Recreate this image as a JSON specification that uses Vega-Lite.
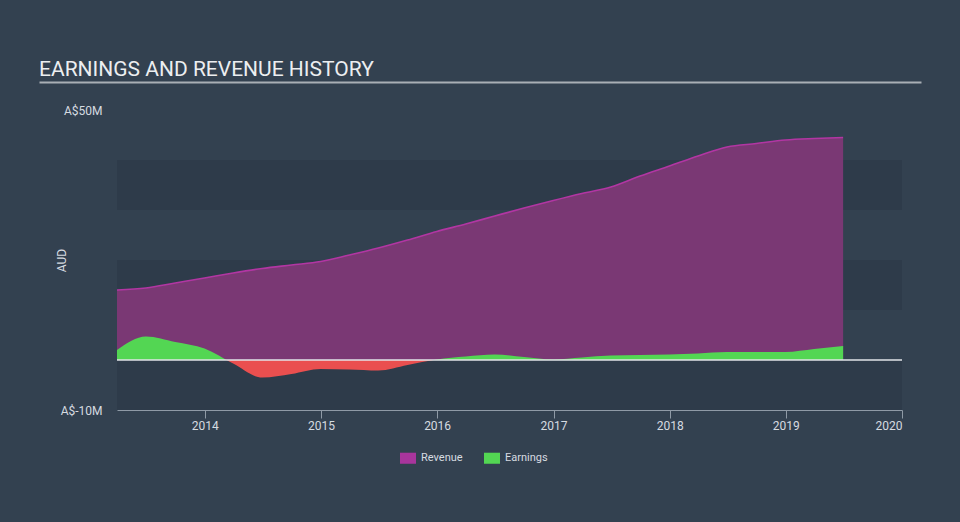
{
  "$schema": "https://vega.github.io/schema/vega-lite/v6.json",
  "width": 785,
  "height": 300,
  "autosize": {"type": "none"},
  "padding": {"left": 117, "top": 110, "right": 58, "bottom": 112},
  "background": "#334150",
  "config": {"view": {"stroke": null}, "font": "Roboto"},
  "title": {
    "text": "EARNINGS AND REVENUE HISTORY",
    "anchor": "start",
    "frame": "group",
    "dx": -78,
    "offset": -15,
    "baseline": "alphabetic",
    "fontSize": 21,
    "fontWeight": "normal",
    "color": "#eceef0",
    "font": "Roboto"
  },
  "datasets": {
    "fin": [
      {"date": "2013-03-31", "series": "Revenue", "value": 14.0},
      {"date": "2013-06-30", "series": "Revenue", "value": 14.4},
      {"date": "2013-09-30", "series": "Revenue", "value": 15.4},
      {"date": "2013-12-31", "series": "Revenue", "value": 16.4},
      {"date": "2014-03-31", "series": "Revenue", "value": 17.4},
      {"date": "2014-06-30", "series": "Revenue", "value": 18.3},
      {"date": "2014-09-30", "series": "Revenue", "value": 19.0},
      {"date": "2014-12-31", "series": "Revenue", "value": 19.7},
      {"date": "2015-03-31", "series": "Revenue", "value": 21.0},
      {"date": "2015-06-30", "series": "Revenue", "value": 22.4},
      {"date": "2015-09-30", "series": "Revenue", "value": 24.0},
      {"date": "2015-12-31", "series": "Revenue", "value": 25.7},
      {"date": "2016-03-31", "series": "Revenue", "value": 27.2},
      {"date": "2016-06-30", "series": "Revenue", "value": 28.8},
      {"date": "2016-09-30", "series": "Revenue", "value": 30.4},
      {"date": "2016-12-31", "series": "Revenue", "value": 31.9},
      {"date": "2017-03-31", "series": "Revenue", "value": 33.3},
      {"date": "2017-06-30", "series": "Revenue", "value": 34.6},
      {"date": "2017-09-30", "series": "Revenue", "value": 36.8},
      {"date": "2017-12-31", "series": "Revenue", "value": 38.8},
      {"date": "2018-03-31", "series": "Revenue", "value": 40.8},
      {"date": "2018-06-30", "series": "Revenue", "value": 42.6},
      {"date": "2018-09-30", "series": "Revenue", "value": 43.3},
      {"date": "2018-12-31", "series": "Revenue", "value": 44.0},
      {"date": "2019-03-31", "series": "Revenue", "value": 44.3},
      {"date": "2019-06-30", "series": "Revenue", "value": 44.5},
      {"date": "2013-03-31", "series": "Earnings", "value": 2.0},
      {"date": "2013-06-30", "series": "Earnings", "value": 4.7},
      {"date": "2013-09-30", "series": "Earnings", "value": 3.6},
      {"date": "2013-12-31", "series": "Earnings", "value": 2.3},
      {"date": "2014-03-31", "series": "Earnings", "value": -0.7},
      {"date": "2014-06-30", "series": "Earnings", "value": -3.5},
      {"date": "2014-09-30", "series": "Earnings", "value": -2.8},
      {"date": "2014-12-31", "series": "Earnings", "value": -1.8},
      {"date": "2015-03-31", "series": "Earnings", "value": -1.9},
      {"date": "2015-06-30", "series": "Earnings", "value": -2.1},
      {"date": "2015-09-30", "series": "Earnings", "value": -1.0},
      {"date": "2015-12-31", "series": "Earnings", "value": 0.1},
      {"date": "2016-03-31", "series": "Earnings", "value": 0.7},
      {"date": "2016-06-30", "series": "Earnings", "value": 1.1},
      {"date": "2016-09-30", "series": "Earnings", "value": 0.6},
      {"date": "2016-12-31", "series": "Earnings", "value": 0.1},
      {"date": "2017-03-31", "series": "Earnings", "value": 0.5},
      {"date": "2017-06-30", "series": "Earnings", "value": 0.9},
      {"date": "2017-09-30", "series": "Earnings", "value": 1.0},
      {"date": "2017-12-31", "series": "Earnings", "value": 1.1},
      {"date": "2018-03-31", "series": "Earnings", "value": 1.3},
      {"date": "2018-06-30", "series": "Earnings", "value": 1.6},
      {"date": "2018-09-30", "series": "Earnings", "value": 1.6},
      {"date": "2018-12-31", "series": "Earnings", "value": 1.6},
      {"date": "2019-03-31", "series": "Earnings", "value": 2.2},
      {"date": "2019-06-30", "series": "Earnings", "value": 2.8}
    ],
    "bands": [
      {"lo": 30, "hi": 40},
      {"lo": 10, "hi": 20},
      {"lo": -10, "hi": 0}
    ]
  },
  "resolve": {"axis": {"x": "independent"}},
  "layer": [
    {
      "data": {"name": "bands"},
      "mark": {"type": "rect", "color": "#2e3b4a"},
      "encoding": {
        "y": {
          "field": "lo", "type": "quantitative",
          "scale": {"domain": [-10, 50], "nice": false, "zero": false},
          "axis": {
            "values": [-10, 50],
            "labelExpr": "'A$' + datum.value + 'M'",
            "domain": false, "ticks": false, "grid": false,
            "labelPadding": 15, "labelFontSize": 12, "labelColor": "#d6dbe0",
            "title": "AUD", "titleFontSize": 12, "titleFontWeight": "normal",
            "titleColor": "#d6dbe0", "titleX": -49, "titleY": 150
          }
        },
        "y2": {"field": "hi"}
      }
    },
    {
      "data": {"name": "fin"},
      "transform": [{"filter": "datum.series === 'Revenue'"}],
      "mark": {"type": "area", "interpolate": "monotone", "color": "#7a3874"},
      "encoding": {
        "x": {
          "field": "date", "type": "temporal",
          "scale": {"domain": ["2013-03-31", "2020-01-01"]},
          "axis": {
            "format": "%Y", "tickCount": {"interval": "year", "step": 1},
            "domainColor": "#8f9aa6", "tickColor": "#8f9aa6", "tickSize": 8,
            "labelColor": "#d6dbe0", "labelFontSize": 12, "labelPadding": 2,
            "labelFlush": true, "grid": false, "title": null
          }
        },
        "y": {"field": "value", "type": "quantitative"}
      }
    },
    {
      "data": {"name": "fin"},
      "transform": [{"filter": "datum.series === 'Revenue'"}],
      "mark": {"type": "line", "interpolate": "monotone", "color": "#b236a3", "strokeWidth": 1.6},
      "encoding": {
        "x": {"field": "date", "type": "temporal", "axis": null},
        "y": {"field": "value", "type": "quantitative"}
      }
    },
    {
      "data": {"name": "fin"},
      "transform": [{"filter": "datum.series === 'Earnings'"}],
      "mark": {
        "type": "area", "interpolate": "monotone",
        "fill": {
          "gradient": "linear", "x1": 0, "y1": 0, "x2": 0, "y2": 1,
          "stops": [
            {"offset": 0, "color": "#53d653"},
            {"offset": 0.573, "color": "#53d653"},
            {"offset": 0.573, "color": "#ea4f4f"},
            {"offset": 1, "color": "#ea4f4f"}
          ]
        }
      },
      "encoding": {
        "x": {
          "field": "date", "type": "temporal",
          "axis": {
            "orient": "top", "offset": 28, "labels": false, "ticks": false,
            "grid": false, "title": null, "domainColor": "#a9afb5", "domainWidth": 2,
            "encoding": {"domain": {"x": {"value": -78}, "x2": {"value": 804}}}
          }
        },
        "y": {"field": "value", "type": "quantitative"},
        "y2": {"datum": 0}
      }
    },
    {
      "data": {"values": [{}]},
      "mark": {"type": "rule", "color": "#e2e5e8", "strokeWidth": 1.5},
      "encoding": {"y": {"datum": 0}}
    },
    {
      "data": {"name": "fin"},
      "mark": {"type": "square", "opacity": 0},
      "encoding": {
        "x": {"field": "date", "type": "temporal", "axis": null},
        "y": {"field": "value", "type": "quantitative"},
        "color": {
          "field": "series", "type": "nominal",
          "scale": {"domain": ["Revenue", "Earnings"], "range": ["#a8359c", "#53d653"]},
          "legend": {
            "orient": "none", "legendX": 283, "legendY": 340, "direction": "horizontal",
            "title": null, "symbolType": "M-1,-0.69H1V0.69H-1Z", "symbolSize": 256,
            "symbolOpacity": 1, "symbolStrokeWidth": 0, "labelColor": "#d6dbe0",
            "labelFontSize": 11, "labelOffset": 5, "columnPadding": 21, "padding": 0
          }
        }
      }
    }
  ]
}
